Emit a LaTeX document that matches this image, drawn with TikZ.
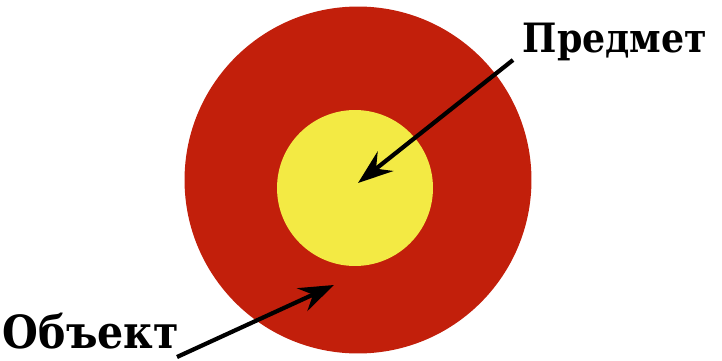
\documentclass[tikz,border=0pt]{standalone}
\usepackage{fontspec}
\usepackage{tikz}
\usetikzlibrary{arrows.meta}
\newfontfamily\lblfont{DejaVu Serif Condensed}
\definecolor{tgRed}{HTML}{C21F0B}
\definecolor{tgYellow}{HTML}{F3EA44}

\begin{document}
\begin{tikzpicture}[
  x=0.02cm, y=-0.02cm,
  ring/.style={circle, inner sep=0pt, draw=none},
  lbl/.style={font=\lblfont\bfseries\fontsize{23}{26}\selectfont, text=black, inner sep=0pt},
  ptr/.style={-{Stealth[length=7mm, width=5mm, inset=2.4mm]}, line width=2.4pt, draw=black},
]
\useasboundingbox (0,0) rectangle (722,361);

% ── Target: outer object and inner subject ──────────────────────────────────
\node[ring, fill=tgRed, minimum size=6.94cm] (outer) at (358,180) {};
\node[ring, fill=tgYellow, minimum size=3.12cm] (inner) at (355,188) {};

% ── Labels ──────────────────────────────────────────────────────────────────
\node[lbl] (pred) at (615,42) {Предмет};
\node[lbl, font=\lblfont\bfseries\fontsize{26}{29}\selectfont] (obj) at (91,331) {Объект};

% ── Pointers (tails next to the labels, tips inside the rings) ──────────────
\coordinate (ptail) at (513,60);
\coordinate (ptip)  at (358,183);
\coordinate (otail) at (177,357);
\coordinate (otip)  at (334,285);
\draw[ptr] (ptail) -- (ptip);
\draw[ptr] (otail) -- (otip);

\end{tikzpicture}
\end{document}
